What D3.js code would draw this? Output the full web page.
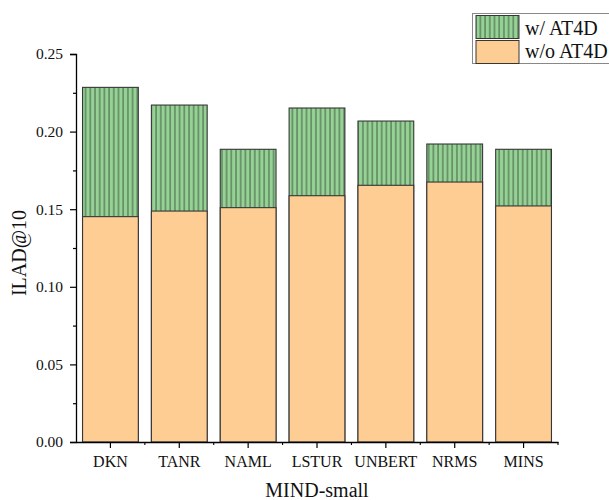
<!DOCTYPE html>
<html>
<head>
<meta charset="utf-8">
<script src="https://cdn.jsdelivr.net/npm/d3@7/dist/d3.min.js"></script>
<style>
  html, body { margin: 0; padding: 0; background: #fff; }
  svg { display: block; }
  text { font-family: "Liberation Serif", "Times New Roman", serif; fill: #111; }
</style>
</head>
<body>
<svg id="chart" width="609" height="500"></svg>
<script>
// ILAD@10 on MIND-small, with and without AT4D
const models = ["DKN", "TANR", "NAML", "LSTUR", "UNBERT", "NRMS", "MINS"];
const withAT4D = [0.2285, 0.2171, 0.1886, 0.2152, 0.2068, 0.1920, 0.1886];
const withoutAT4D = [0.1452, 0.1488, 0.1510, 0.1587, 0.1654, 0.1675, 0.1521];
const yTicks = [0.00, 0.05, 0.10, 0.15, 0.20, 0.25];
const yMinorTicks = [0.025, 0.075, 0.125, 0.175, 0.225];
const legendLabels = ["w/ AT4D", "w/o AT4D"];

const svg = d3.select("#chart");
const plotLeft = 76, plotRight = 558, plotTop = 54, plotBottom = 442;

const x = d3.scaleBand().domain(models).range([plotLeft, plotRight]).paddingInner(0.19).paddingOuter(0.095);
const y = d3.scaleLinear().domain([0, 0.25]).range([plotBottom, plotTop]);

// vertical hatch for the AT4D series
const defs = svg.append("defs");
const pat = defs.append("pattern")
  .attr("id", "vhatch")
  .attr("patternUnits", "userSpaceOnUse")
  .attr("width", 4.7).attr("height", 10);
pat.append("rect").attr("width", 4.7).attr("height", 10).attr("fill", "#96d296");
pat.append("line").attr("x1", 1).attr("x2", 1).attr("y1", 0).attr("y2", 10)
  .attr("stroke", "#5a805a").attr("stroke-width", 1.4);

const barStroke = "#363636";

// full-height bars with AT4D
svg.append("g").selectAll("rect")
  .data(models)
  .join("rect")
  .attr("x", d => x(d))
  .attr("width", x.bandwidth())
  .attr("y", (d, i) => y(withAT4D[i]))
  .attr("height", (d, i) => y(0) - y(withAT4D[i]))
  .attr("fill", "url(#vhatch)")
  .attr("stroke", barStroke).attr("stroke-width", 1.1);

// bars without AT4D, drawn over the same band
svg.append("g").selectAll("rect")
  .data(models)
  .join("rect")
  .attr("x", d => x(d))
  .attr("width", x.bandwidth())
  .attr("y", (d, i) => y(withoutAT4D[i]))
  .attr("height", (d, i) => y(0) - y(withoutAT4D[i]))
  .attr("fill", "#fdcd94")
  .attr("stroke", barStroke).attr("stroke-width", 1.1);

// y axis
const yAxis = svg.append("g").attr("transform", `translate(${plotLeft},0)`)
  .call(d3.axisLeft(y).tickValues(yTicks).tickFormat(d3.format(".2f")).tickSize(6).tickPadding(7));
svg.append("g").attr("transform", `translate(${plotLeft},0)`)
  .call(d3.axisLeft(y).tickValues(yMinorTicks).tickFormat("").tickSize(3))
  .select(".domain").remove();
yAxis.selectAll("text").style("font-size", "15.5px").style("font-family", "Liberation Serif");

// x axis
const xAxis = svg.append("g").attr("transform", `translate(0,${plotBottom})`)
  .call(d3.axisBottom(x).tickSize(6).tickSizeOuter(0).tickPadding(8));
xAxis.selectAll("text").style("font-size", "16px").style("font-family", "Liberation Serif");
const boundaries = models.map(m => x(m) - x.step() * x.paddingInner() / 2).slice(1).concat([plotRight]);
svg.append("g").selectAll("line")
  .data(boundaries)
  .join("line")
  .attr("x1", d => d).attr("x2", d => d)
  .attr("y1", plotBottom).attr("y2", plotBottom + 3)
  .attr("stroke", "#000").attr("stroke-width", 1.1);

svg.selectAll(".domain").attr("stroke", "#000").attr("stroke-width", 1.3);
svg.selectAll(".tick line").attr("stroke", "#000").attr("stroke-width", 1.2);

// axis titles
svg.append("text")
  .attr("x", (plotLeft + plotRight) / 2).attr("y", 497)
  .attr("text-anchor", "middle")
  .style("font-size", "20px")
  .text("MIND-small");
svg.append("text")
  .attr("transform", `translate(26,${(plotTop + plotBottom) / 2 + 5}) rotate(-90)`)
  .attr("text-anchor", "middle")
  .style("font-size", "20px")
  .text("ILAD@10");

// legend
const lg = svg.append("g");
lg.append("rect").attr("x", 472.5).attr("y", 13.5).attr("width", 150).attr("height", 50)
  .attr("fill", "#fff").attr("stroke", "#888").attr("stroke-width", 1);
const swatchFills = ["url(#vhatch)", "#fdcd94"];
legendLabels.forEach((label, i) => {
  lg.append("rect")
    .attr("x", 476).attr("y", 15.5 + i * 25)
    .attr("width", 43).attr("height", 23)
    .attr("fill", swatchFills[i])
    .attr("stroke", barStroke).attr("stroke-width", 1);
  lg.append("text")
    .attr("x", 525).attr("y", 34.5 + i * 23)
    .style("font-size", "20px")
    .text(label);
});
</script>
</body>
</html>
